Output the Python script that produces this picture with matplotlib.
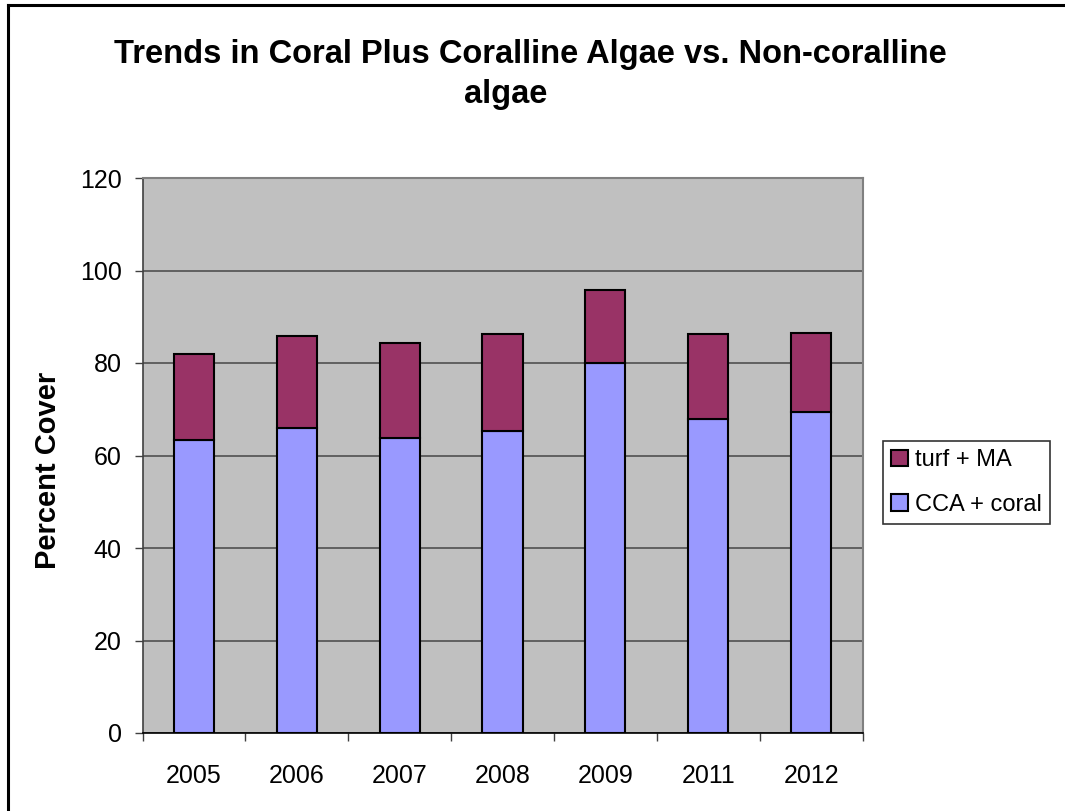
import numpy as np
import matplotlib.pyplot as plt
from matplotlib.lines import Line2D
from matplotlib.patches import Patch

plt.rcParams['font.family'] = ['Liberation Sans', 'DejaVu Sans']

years = ['2005', '2006', '2007', '2008', '2009', '2011', '2012']
cca_coral = [63.3, 65.9, 63.7, 65.4, 80.1, 68.0, 69.3]
turf_ma = [18.7, 19.9, 20.7, 20.8, 15.7, 18.2, 17.2]

col_cca = '#9999FF'
col_turf = '#993366'

fig = plt.figure(figsize=(10.65, 8.11), dpi=100)
ax = fig.add_axes([142.5/1065, 78/811, 720/1065, 555/811])
ax.set_facecolor('#C0C0C0')

x = np.arange(len(years))
ax.bar(x, cca_coral, width=0.39, color=col_cca, edgecolor='black', linewidth=1.5, zorder=3)
ax.bar(x, turf_ma, width=0.39, bottom=cca_coral, color=col_turf, edgecolor='black', linewidth=1.5, zorder=3)

ax.set_xlim(-0.5, len(years) - 0.5)
ax.set_ylim(0, 120)
ax.set_yticks(np.arange(0, 121, 20))
ax.yaxis.grid(True, color='#505050', linewidth=1.2, zorder=1)
ax.set_axisbelow(True)

# category labels centred, tick marks between categories
ax.set_xticks(x)
ax.set_xticklabels(years)
ax.set_xticks(np.arange(-0.5, len(years)), minor=True)
ax.tick_params(axis='x', which='major', length=0, pad=22, labelsize=18)
ax.tick_params(axis='x', which='minor', length=6, width=1, color='#404040')
ax.tick_params(axis='y', length=6, width=1, color='#404040', pad=9, labelsize=18)

for s in ['top', 'right']:
    ax.spines[s].set_color('#808080')
    ax.spines[s].set_linewidth(1.5)
ax.spines['left'].set_color('#404040')
ax.spines['bottom'].set_color('#000000')
ax.spines['left'].set_linewidth(1.2)
ax.spines['bottom'].set_linewidth(1.2)

fig.text(48/1065, 1 - 470/811, 'Percent Cover', rotation=90, fontsize=21,
         fontweight='bold', ha='center', va='center')

fig.text(530/1065, 1 - 55/811, 'Trends in Coral Plus Coralline Algae vs. Non-coralline',
         fontsize=23.5, fontweight='bold', ha='center', va='center')
fig.text(506/1065, 1 - 95/811, 'algae',
         fontsize=23.5, fontweight='bold', ha='center', va='center')

handles = [Patch(facecolor=col_turf, edgecolor='black', linewidth=1.5),
           Patch(facecolor=col_cca, edgecolor='black', linewidth=1.5)]
leg = fig.legend(handles, ['turf + MA', 'CCA + coral'], loc='upper left',
                 bbox_to_anchor=(883/1065, 1 - 441/811), fontsize=17,
                 frameon=True, fancybox=False, handlelength=0.7, handleheight=0.7,
                 handletextpad=0.3, borderpad=0.35, labelspacing=0.95, borderaxespad=0)
leg.get_frame().set_edgecolor('black')
leg.get_frame().set_linewidth(1.2)

# chart area border (right and bottom edges fall outside the picture)
fig.add_artist(Line2D([8/1065, 8/1065], [0, 1 - 5/811], transform=fig.transFigure,
                      color='black', linewidth=2.2))
fig.add_artist(Line2D([8/1065, 1], [1 - 5/811, 1 - 5/811], transform=fig.transFigure,
                      color='black', linewidth=2.2))

fig.savefig('out.png', dpi=100)
